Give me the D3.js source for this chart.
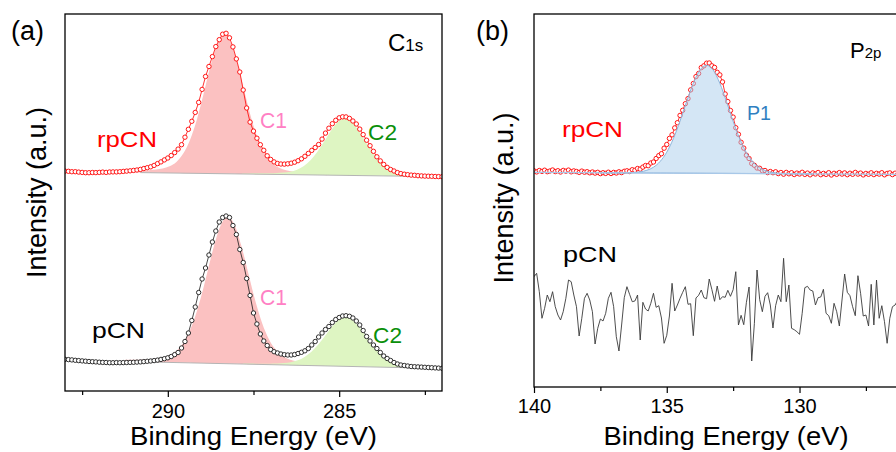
<!DOCTYPE html>
<html>
<head>
<meta charset="utf-8">
<script src="https://cdn.jsdelivr.net/npm/d3@7"></script>
<style>
  html, body { margin: 0; padding: 0; background: #fff; }
  svg { display: block; font-family: "Liberation Sans", Arial, sans-serif; }
</style>
</head>
<body>
<svg id="chart" width="896" height="452"></svg>
<script>
// ---------- C 1s spectra (0.1 eV step, starting at 293.0 eV) ----------
const c1sStart = 293.0, c1sStep = 0.1;
const c1sRpCN = [219.9,219.7,219.3,219.3,218.9,218.6,218.3,218.3,218.5,218.4,
  218.6,218.9,218.6,219.0,219.1,219.1,219.3,219.6,219.9,220.2,
  220.6,221.0,221.6,222.5,223.3,224.2,225.6,227.4,229.1,231.1,
  233.0,235.5,238.4,241.9,246.3,253.8,261.7,269.7,278.6,288.6,
  301.6,314.5,324.5,334.4,344.4,351.3,356.8,357.7,353.2,344.1,
  332.1,319.0,301.0,283.0,268.9,259.9,252.8,246.3,240.7,235.2,
  231.6,229.1,227.5,227.0,226.9,227.2,227.8,228.8,230.3,232.2,
  234.7,237.6,240.6,243.5,246.5,251.9,257.9,262.8,267.3,270.7,
  273.2,274.2,274.1,272.6,270.0,267.0,261.9,256.4,250.8,245.3,
  239.7,234.2,230.1,226.6,223.6,221.5,220.0,218.4,217.4,216.8,
  216.3,215.9,215.7,215.3,215.1,214.9,214.8,214.7,214.5,214.4,
  214.3];
const c1sPCN = [31.7,31.4,31.1,30.7,30.4,30.1,29.8,29.5,29.3,29.1,
  28.8,28.6,28.5,28.3,28.3,28.4,28.3,28.4,28.5,28.6,
  28.7,28.9,29.1,29.4,29.7,30.0,30.4,30.9,31.6,32.3,
  33.2,34.5,36.4,38.5,43.0,49.5,58.0,70.5,84.0,98.5,
  112.0,123.0,136.0,149.0,160.0,169.0,173.5,175.0,173.5,165.5,
  156.5,141.5,128.5,112.5,95.5,78.0,67.0,57.0,50.0,45.5,
  41.5,39.3,38.0,37.0,36.3,36.0,36.0,36.5,37.5,38.7,
  40.2,42.5,46.0,49.5,54.0,58.0,61.5,64.5,68.5,71.5,
  73.5,75.0,75.3,74.7,73.0,70.0,66.0,60.5,54.5,50.0,
  46.0,42.5,38.5,35.0,32.5,30.5,28.5,27.0,26.0,25.5,
  25.0,24.5,24.3,24.1,23.9,23.7,23.5,23.3,23.1,22.9,
  22.7];

// C 1s peak fits: offsets from each peak centre (eV) and component heights
const c1sFitOffsets = [-3.0,-2.8,-2.6,-2.4,-2.2,-2.0,-1.8,-1.6,-1.4,-1.2,-1.0,-0.8,-0.6,-0.4,-0.2,0,
  0.2,0.4,0.6,0.8,1.0,1.2,1.4,1.6,1.8,2.0,2.2,2.4,2.6,2.8,3.0];
const rpcnCenters = [288.35, 284.83];
const pcnCenters = [288.25, 284.81];
const rpcnC1Fit = [1.4,1.6,1.8,2.1,2.5,3.2,4.3,6.7,11.2,19.6,33.6,54.2,80.5,108.2,130.3,139.0,
  130.3,108.2,80.5,54.2,33.6,19.6,11.2,6.7,4.3,3.2,2.5,2.1,1.8,1.6,1.4];
const rpcnC2Fit = [0.6,0.7,0.8,0.9,1.1,1.4,2.0,3.0,5.1,8.8,14.8,23.4,34.0,45.0,53.6,57.0,
  53.6,45.0,34.0,23.4,14.8,8.8,5.1,3.0,2.0,1.4,1.1,0.9,0.8,0.7,0.6];
const pcnC1Fit = [1.6,1.8,2.1,2.5,3.1,4.0,5.7,9.0,15.1,25.5,41.6,63.8,90.6,117.8,138.9,147.0,
  138.9,117.8,90.6,63.8,41.6,25.5,15.1,9.0,5.7,4.0,3.1,2.5,2.1,1.8,1.6];
const pcnC2Fit = [0.5,0.6,0.7,0.8,1.0,1.3,1.9,3.0,5.0,8.5,13.9,21.3,30.2,39.3,46.3,49.0,
  46.3,39.3,30.2,21.3,13.9,8.5,5.0,3.0,1.9,1.3,1.0,0.8,0.7,0.6,0.5];
// linear backgrounds (energy end points and levels)
const rpcnC1sBgEnergy = [290.8, 282.0];
const rpcnC1sBgLevel = [218.4, 214.3];
const pcnC1sBgEnergy = [290.5, 282.0];
const pcnC1sBgLevel = [29.0, 22.5];

// ---------- P 2p spectra (0.1 eV step, starting at 140.0 eV) ----------
const p2pStart = 140.0, p2pStep = 0.1;
const p2pRpCN = [216.2,215.1,216.5,215.6,216.8,215.3,216.0,217.0,215.4,216.3,
  215.0,216.6,215.8,216.9,215.2,216.1,215.5,214.6,215.9,214.8,
  215.3,214.2,215.0,213.9,214.7,213.4,214.3,213.6,214.8,213.5,
  214.6,214.0,215.2,214.4,215.7,216.2,215.5,217.3,216.7,218.5,
  217.9,219.9,221.5,221.3,224.0,225.0,228.5,231.4,233.3,238.8,
  242.5,248.6,252.2,259.1,264.3,271.6,276.7,283.3,288.4,297.1,
  303.5,310.4,313.5,319.4,321.2,323.8,324.0,321.2,319.6,314.7,
  312.1,305.1,293.0,285.4,276.5,269.9,259.3,252.7,244.7,238.9,
  231.8,228.5,223.5,221.7,219.0,218.7,216.2,216.5,214.4,215.5,
  214.3,215.2,213.4,214.5,212.8,214.6,213.2,214.3,212.5,213.9,
  213.0,214.7,212.6,213.9,212.2,214.1,213.0,214.5,212.3,213.6,
  212.6,214.3,212.0,213.7,212.7,214.4,212.9,214.1,212.3,213.8,
  212.7,214.6,212.9,213.9,212.1,213.6,212.7,214.2,212.4,213.7,
  212.9,214.3,212.2,213.6,214.1,212.4,213.8,212.6,214.1,212.3,
  213.3];
const p2pPCN = [110.3,113.7,95.3,68.7,78.7,92.0,85.3,95.3,80.3,72.0,
  67.0,75.3,88.7,107.0,105.3,92.0,80.3,51.0,68.7,88.7,
  93.7,87.0,75.3,43.0,58.7,68.0,66.0,73.7,88.7,94.7,
  80.3,50.3,36.0,62.0,89.3,100.3,92.7,85.3,86.0,92.0,
  47.0,84.7,78.0,76.0,83.7,93.7,79.7,81.3,69.0,43.7,
  51.7,71.0,103.7,76.0,82.0,88.7,94.7,100.3,82.7,83.3,
  51.3,89.0,91.7,97.0,89.3,88.3,108.0,97.3,85.7,101.0,
  87.3,90.3,89.7,96.7,90.7,97.3,115.3,62.0,71.7,62.3,
  84.7,100.0,26.0,63.7,117.0,87.3,75.3,90.7,94.3,82.0,
  59.0,81.3,92.0,85.3,128.7,85.3,102.0,58.7,57.3,55.3,
  52.7,73.7,99.3,100.7,97.0,96.0,82.0,89.3,90.0,97.7,
  73.7,71.3,63.7,83.7,75.3,61.0,87.0,113.0,94.7,91.3,
  80.3,71.3,111.3,93.7,71.0,72.0,61.0,102.7,62.0,107.0,
  68.7,81.3,65.3,43.7,68.7,80.3,82.0,87.0];
const p2pFitOffsets = [-4,-3.5,-3,-2.75,-2.5,-2.25,-2,-1.75,-1.5,-1.25,-1,-0.75,-0.5,-0.25,0,
  0.25,0.5,0.75,1,1.25,1.5,1.75,2,2.25,2.5,2.75,3,3.5,4];
const rpcnP1Center = [133.5];
const rpcnP1Fit = [0,0,0.2,0.4,1.1,2.7,5.8,11.6,20.9,34.6,52.1,71.7,90.0,103.2,108.0,
  103.2,90.0,71.7,52.1,34.6,20.9,11.6,5.8,2.7,1.1,0.4,0.2,0,0];
const rpcnP2pBgEnergy = [140.0, 125.5];
const rpcnP2pBgLevel = [214.6, 212.6];

// axis ticks
const c1sMajorTicks = [290, 285];
const c1sMinorTicks = [292.5, 287.5, 282.5];
const p2pMajorTicks = [140, 135, 130];
const p2pMinorTicks = [137.5, 132.5, 127.5];

// ---------- drawing ----------
const svg = d3.select("#chart");
const FONT = '"Liberation Sans", Arial, sans-serif';
const RED = "#ff0000", DARK = "#1a1a1a";

const asPoints = (start, step, vals) =>
  vals.map((v, i) => ({ e: +(start - i * step).toFixed(2), v }));

function panel(id, box, xDomain, yDomain) {
  const x = d3.scaleLinear().domain(xDomain).range([box.l, box.r]);
  const y = d3.scaleLinear().domain(yDomain).range([box.b, box.t]);
  svg.append("clipPath").attr("id", id)
    .append("rect").attr("x", box.l).attr("y", box.t)
    .attr("width", box.r - box.l).attr("height", box.b - box.t);
  const g = svg.append("g").attr("clip-path", `url(#${id})`);
  return { x, y, g, box };
}

function component(p, centre, offsets, heights, bg, fill, opts = {}) {
  const pts = offsets.map((o, i) => ({ e: centre + o, h: heights[i] }));
  const area = d3.area()
    .x(d => p.x(d.e))
    .y0(d => p.y(bg(d.e)))
    .y1(d => p.y(bg(d.e) + d.h))
    .curve(d3.curveMonotoneX);
  p.g.append("path").datum(pts).attr("d", area)
    .attr("fill", fill).attr("fill-opacity", opts.opacity ?? 1)
    .attr("stroke", opts.stroke ?? "none").attr("stroke-width", opts.strokeWidth ?? 0);
}

function background(p, energies, bg, colour, width) {
  p.g.append("line")
    .attr("x1", p.x(energies[0])).attr("x2", p.x(energies[1]))
    .attr("y1", p.y(bg(energies[0]))).attr("y2", p.y(bg(energies[1])))
    .attr("stroke", colour).attr("stroke-width", width);
}

function spectrum(p, pts, colour, markers) {
  const line = d3.line().x(d => p.x(d.e)).y(d => p.y(d.v));
  p.g.append("path").datum(pts).attr("d", line)
    .attr("fill", "none").attr("stroke", colour)
    .attr("stroke-width", markers ? 0.8 : 0.9).attr("stroke-linejoin", "round");
  if (markers) {
    p.g.append("g").selectAll("circle").data(pts).join("circle")
      .attr("cx", d => p.x(d.e)).attr("cy", d => p.y(d.v)).attr("r", 2.2)
      .attr("fill", "#fff").attr("stroke", colour).attr("stroke-width", 0.9);
  }
}

function frame(p) {
  const { l, r, t, b } = p.box;
  svg.append("rect").attr("x", l).attr("y", t).attr("width", r - l).attr("height", b - t)
    .attr("fill", "none").attr("stroke", "#000").attr("stroke-width", 1.3);
}

function bottomAxis(p, major, minor, pad) {
  const yb = p.box.b;
  const gMaj = svg.append("g").attr("transform", `translate(0,${yb})`)
    .call(d3.axisBottom(p.x).tickValues(major).tickSize(6).tickPadding(pad).tickFormat(d3.format("d")));
  const gMin = svg.append("g").attr("transform", `translate(0,${yb})`)
    .call(d3.axisBottom(p.x).tickValues(minor).tickSize(4).tickFormat(""));
  [gMaj, gMin].forEach(g => {
    g.select(".domain").remove();
    g.selectAll("line").attr("stroke", "#000").attr("stroke-width", 1.2);
  });
  gMaj.selectAll("text").attr("font-family", FONT).attr("font-size", 20).attr("fill", "#000");
}

function text(x, y, str, size, colour, opts = {}) {
  const t = svg.append("text").attr("x", x).attr("y", y).attr("font-family", FONT)
    .attr("font-size", size).attr("fill", colour)
    .attr("text-anchor", opts.anchor ?? "start").text(str);
  if (opts.width) t.attr("textLength", opts.width).attr("lengthAdjust", "spacingAndGlyphs");
  return t;
}

function sublabel(x, y, main, sub, size, subSize) {
  const t = svg.append("text").attr("x", x).attr("y", y).attr("font-family", FONT).attr("fill", "#000");
  t.append("tspan").attr("font-size", size).text(main);
  t.append("tspan").attr("font-size", subSize).text(sub);
}

// ----- panel (a): C 1s -----
const pa = panel("clipA", { l: 65, r: 442, t: 14, b: 391 }, [293, 282], [0, 377]);
const rpBgA = d3.scaleLinear().domain(rpcnC1sBgEnergy).range(rpcnC1sBgLevel);
const pBgA = d3.scaleLinear().domain(pcnC1sBgEnergy).range(pcnC1sBgLevel);

component(pa, rpcnCenters[0], c1sFitOffsets, rpcnC1Fit, rpBgA, "#fbc1c1");
component(pa, rpcnCenters[1], c1sFitOffsets, rpcnC2Fit, rpBgA, "#def5c2");
component(pa, pcnCenters[0], c1sFitOffsets, pcnC1Fit, pBgA, "#fbc1c1");
component(pa, pcnCenters[1], c1sFitOffsets, pcnC2Fit, pBgA, "#def5c2");
background(pa, rpcnC1sBgEnergy, rpBgA, "#b4b4b4", 1);
background(pa, pcnC1sBgEnergy, pBgA, "#b4b4b4", 1);
spectrum(pa, asPoints(c1sStart, c1sStep, c1sRpCN), RED, true);
spectrum(pa, asPoints(c1sStart, c1sStep, c1sPCN), DARK, true);
frame(pa);
bottomAxis(pa, c1sMajorTicks, c1sMinorTicks, 7);

// ----- panel (b): P 2p -----
const pb = panel("clipB", { l: 534, r: 919, t: 14, b: 387 }, [140, 125.5], [0, 373]);
const rpBgB = d3.scaleLinear().domain(rpcnP2pBgEnergy).range(rpcnP2pBgLevel);
spectrum(pb, asPoints(p2pStart, p2pStep, p2pRpCN), RED, true);
component(pb, rpcnP1Center[0], p2pFitOffsets, rpcnP1Fit, rpBgB, "#a9cdec",
  { opacity: 0.5, stroke: "#8db4da", strokeWidth: 1 });
background(pb, rpcnP2pBgEnergy, rpBgB, "#a8c8e8", 1.3);
spectrum(pb, asPoints(p2pStart, p2pStep, p2pPCN), "#3a3a3a", false);
frame(pb);
bottomAxis(pb, p2pMajorTicks, p2pMinorTicks, 6);

// ----- titles and annotations -----
text(253.5, 445, "Binding Energy (eV)", 26, "#000", { anchor: "middle", width: 247 });
text(726, 445, "Binding Energy (eV)", 26, "#000", { anchor: "middle", width: 245 });
svg.append("text").attr("transform", "translate(46,192.5) rotate(-90)")
  .attr("font-family", FONT).attr("font-size", 27).attr("text-anchor", "middle").text("Intensity (a.u.)");
svg.append("text").attr("transform", "translate(512.5,198) rotate(-90)")
  .attr("font-family", FONT).attr("font-size", 27).attr("text-anchor", "middle").text("Intensity (a.u.)");

text(11, 40, "(a)", 27, "#000");
text(476, 40, "(b)", 27, "#000");
sublabel(388, 50.5, "C", "1s", 24, 17);
sublabel(850, 58, "P", "2p", 22, 15);

text(97, 147, "rpCN", 22, RED, { width: 60 });
text(260, 128, "C1", 22, "#ff80c4", { width: 27 });
text(368, 140, "C2", 22, "#0a8f0a", { width: 29 });
text(92, 338, "pCN", 22, "#000", { width: 53 });
text(260, 305, "C1", 22, "#ff80c4", { width: 27 });
text(373, 343, "C2", 22, "#0a8f0a", { width: 29 });

text(562, 137, "rpCN", 22, RED, { width: 61 });
text(747, 120, "P1", 21, "#2f7fc1", { width: 24 });
text(563, 262, "pCN", 22, "#000", { width: 54 });
</script>
</body>
</html>
